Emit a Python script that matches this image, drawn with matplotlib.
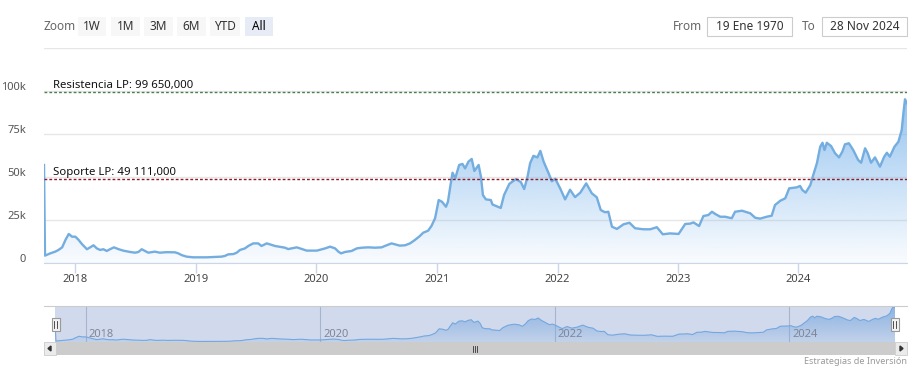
import numpy as np
import pandas as pd
import matplotlib
matplotlib.use('Agg')
import matplotlib.pyplot as plt
import matplotlib.dates as mdates
from matplotlib.patches import Rectangle, Polygon
from matplotlib.transforms import ScaledTranslation, blended_transform_factory

plt.rcParams['font.family'] = ['Noto Sans', 'DejaVu Sans']

# Price series (USD)
dates = [
    "2017-09-28", "2017-10-01", "2017-10-17", "2017-11-01", "2017-11-11", "2017-11-22",
    "2017-12-02", "2017-12-12", "2017-12-22", "2018-01-01", "2018-01-11", "2018-01-21",
    "2018-02-05", "2018-02-15", "2018-02-25", "2018-03-07", "2018-03-17", "2018-03-27",
    "2018-04-06", "2018-04-16", "2018-04-28", "2018-05-11", "2018-05-26", "2018-06-16",
    "2018-07-01", "2018-07-11", "2018-07-21", "2018-07-31", "2018-08-10", "2018-08-30",
    "2018-09-14", "2018-10-05", "2018-10-30", "2018-11-09", "2018-11-19", "2018-12-04",
    "2018-12-24", "2019-01-14", "2019-02-03", "2019-02-23", "2019-03-20", "2019-03-30",
    "2019-04-09", "2019-04-25", "2019-05-05", "2019-05-15", "2019-05-30", "2019-06-09",
    "2019-06-24", "2019-07-09", "2019-07-19", "2019-08-04", "2019-08-29", "2019-09-28",
    "2019-10-08", "2019-11-03", "2019-12-03", "2020-01-03", "2020-01-28", "2020-02-12",
    "2020-02-27", "2020-03-08", "2020-03-16", "2020-03-28", "2020-04-17", "2020-05-03",
    "2020-05-18", "2020-06-07", "2020-06-27", "2020-07-17", "2020-07-27", "2020-08-16",
    "2020-09-10", "2020-09-26", "2020-10-11", "2020-10-26", "2020-11-10", "2020-11-20",
    "2020-12-05", "2020-12-15", "2020-12-26", "2021-01-06", "2021-01-16", "2021-01-28",
    "2021-02-03", "2021-02-10", "2021-02-17", "2021-02-25", "2021-03-09", "2021-03-19",
    "2021-03-27", "2021-04-06", "2021-04-16", "2021-04-24", "2021-05-07", "2021-05-14",
    "2021-05-20", "2021-05-29", "2021-06-13", "2021-06-18", "2021-07-13", "2021-07-23",
    "2021-08-08", "2021-08-28", "2021-09-12", "2021-09-22", "2021-10-02", "2021-10-10",
    "2021-10-20", "2021-11-01", "2021-11-10", "2021-11-20", "2021-12-05", "2021-12-15",
    "2021-12-25", "2022-01-09", "2022-01-24", "2022-02-08", "2022-02-23", "2022-03-11",
    "2022-03-29", "2022-04-15", "2022-04-30", "2022-05-12", "2022-05-25", "2022-06-04",
    "2022-06-15", "2022-06-30", "2022-07-20", "2022-08-07", "2022-08-24", "2022-09-18",
    "2022-10-09", "2022-10-29", "2022-11-16", "2022-12-08", "2023-01-03", "2023-01-23",
    "2023-02-07", "2023-02-17", "2023-03-06", "2023-03-19", "2023-04-03", "2023-04-14",
    "2023-04-24", "2023-05-09", "2023-05-24", "2023-06-13", "2023-06-23", "2023-07-14",
    "2023-08-08", "2023-08-23", "2023-09-07", "2023-09-27", "2023-10-12", "2023-10-22",
    "2023-11-07", "2023-11-22", "2023-12-04", "2023-12-27", "2024-01-06", "2024-01-13",
    "2024-01-23", "2024-02-06", "2024-02-15", "2024-02-26", "2024-03-07", "2024-03-14",
    "2024-03-20", "2024-03-27", "2024-04-09", "2024-04-21", "2024-05-03", "2024-05-13",
    "2024-05-21", "2024-06-02", "2024-06-15", "2024-06-30", "2024-07-09", "2024-07-21",
    "2024-07-29", "2024-08-08", "2024-08-20", "2024-09-04", "2024-09-17", "2024-09-25",
    "2024-10-04", "2024-10-18", "2024-10-30", "2024-11-09", "2024-11-14", "2024-11-19",
    "2024-11-25",
]
prices = [
    57000, 4300, 5600, 6600, 7600, 9100,
    13400, 16900, 15300, 15300, 13400, 11000,
    8000, 9100, 10300, 8500, 7600, 8000,
    7000, 8000, 9100, 8100, 7200, 6400,
    6000, 6400, 8000, 7000, 6000, 6600,
    6000, 6300, 6200, 5600, 4600, 3700,
    3300, 3300, 3300, 3500, 3700, 4100,
    5000, 5200, 6000, 7600, 8500, 9900,
    11400, 11400, 9900, 11400, 9900, 8900,
    8100, 9100, 7200, 7200, 8500, 9500,
    8500, 6600, 5600, 6400, 7000, 8500,
    8900, 9100, 8900, 9100, 9900, 11400,
    10100, 10300, 11400, 13400, 15700, 17600,
    18800, 21500, 26000, 36600, 35600, 32700,
    35600, 44400, 52500, 49200, 57000, 57600,
    55000, 58900, 60500, 53500, 57000, 50200,
    39500, 37000, 36600, 34000, 32000, 39500,
    46000, 48800, 47000, 43000, 50000, 58000,
    62300, 61400, 65200, 58900, 52200, 47500,
    49000, 43400, 37000, 42600, 38300, 40900,
    46300, 40500, 38200, 30800, 29500, 29800,
    21100, 19800, 22500, 23400, 20200, 19600,
    19600, 20800, 16700, 17200, 16900, 22700,
    22900, 23600, 21500, 27300, 27900, 29800,
    28500, 26900, 26900, 26000, 29800, 30400,
    28900, 26300, 25800, 26900, 27500, 33700,
    36200, 37600, 43400, 44000, 44800, 42400,
    40900, 45300, 51200, 58000, 67600, 69900,
    65700, 69900, 68000, 63800, 61400, 64700,
    69000, 69600, 65700, 59900, 58300, 66700,
    63800, 58300, 61400, 56000, 61800, 64100,
    61800, 67600, 70500, 77300, 87000, 95200,
    92800,
]

resistance = 99650
support = 49111
resistance_label = "Resistencia LP: 99 650,000"
support_label = "Soporte LP: 49 111,000"

y_ticks = [0, 25000, 50000, 75000, 100000, 125000]
y_labels = ["0", "25k", "50k", "75k", "100k", ""]
year_ticks = ["2018-01-01", "2019-01-01", "2020-01-01", "2021-01-01",
              "2022-01-01", "2023-01-01", "2024-01-01"]
year_labels = ["2018", "2019", "2020", "2021", "2022", "2023", "2024"]
nav_ticks = ["2018-01-01", "2020-01-01", "2022-01-01", "2024-01-01"]
nav_labels = ["2018", "2020", "2022", "2024"]
zoom_buttons = ["1W", "1M", "3M", "6M", "YTD", "All"]
date_from = "19 Ene 1970"
date_to = "28 Nov 2024"

d = pd.to_datetime(dates)
p = np.array(prices, dtype=float)
blue = (124 / 255, 181 / 255, 236 / 255)

W, H = 920, 374
fig = plt.figure(figsize=(W / 100, H / 100), dpi=100)


def fx(x):
    return x / W


def fy(y):
    return 1 - y / H


def gradient_fill(ax, x, y, top_alpha, bottom_alpha, ytop):
    poly = ax.fill_between(x, y, 0, color='none', lw=0)
    grad = np.zeros((256, 1, 4))
    grad[:, 0, :3] = blue
    grad[:, 0, 3] = np.linspace(top_alpha, bottom_alpha, 256)
    x0, x1 = mdates.date2num(x[0]), mdates.date2num(x[-1])
    im = ax.imshow(grad, extent=[x0, x1, 0, ytop], aspect='auto',
                   origin='upper', zorder=1, interpolation='bilinear')
    im.set_clip_path(poly.get_paths()[0], transform=ax.transData)


# ---- main chart ----
ax = fig.add_axes([fx(44), fy(263), (907 - 44) / W, 215 / H])
gradient_fill(ax, d, p, 0.8, 0.04, p.max())
ax.plot(d, p, color='#74addf', lw=1.7, zorder=3, solid_joinstyle='round')
ax.set_xlim(d[0], d[-1])
ax.set_ylim(0, 125000)

ax.set_yticks(y_ticks)
ax.set_yticklabels(y_labels)
ax.grid(axis='y', color='#e6e6e6', lw=1)
ax.set_axisbelow(True)
ax.tick_params(axis='y', length=0, pad=13, labelsize=8, labelcolor='#555555')
for lab in ax.get_yticklabels():
    lab.set_transform(lab.get_transform() + ScaledTranslation(0, 5 / 100, fig.dpi_scale_trans))

ax.set_xticks(pd.to_datetime(year_ticks))
ax.set_xticklabels(year_labels)
ax.tick_params(axis='x', length=7, width=1, color='#ccd6eb', pad=1,
               labelsize=8, labelcolor='#444444')
for s in ['top', 'right', 'left']:
    ax.spines[s].set_visible(False)
ax.spines['bottom'].set_color('#ccd6eb')

ax.axhline(resistance, color='#4e7d4e', lw=1, ls=(0, (2, 1.5)), zorder=4)
ax.axhline(support, color='#8b1a2a', lw=1, ls=(0, (2, 1.5)), zorder=4)
tr = blended_transform_factory(ax.transAxes, ax.transData)
ax.text(9 / 863, resistance + 300, resistance_label, transform=tr,
        fontsize=8.2, color='#111111', va='bottom', zorder=5)
ax.text(9 / 863, support + 300, support_label, transform=tr,
        fontsize=8.2, color='#111111', va='bottom', zorder=5)

# ---- navigator ----
nav = fig.add_axes([fx(55), fy(342), (895 - 55) / W, 36 / H])
nav.set_xlim(d[0], d[-1])
nav.set_ylim(p.min() - 1500, p.max() + 1500)
for t in pd.to_datetime(nav_ticks):
    nav.axvline(t, color='#c4c9d6', lw=0.8, zorder=0)
gradient_fill(nav, d, p, 0.75, 0.15, p.max())
nav.plot(d, p, color='#7cb5ec', lw=0.8, zorder=3)
nav.add_patch(Rectangle((0, 0), 1, 1, transform=nav.transAxes,
                        facecolor=(102 / 255, 133 / 255, 194 / 255, 0.3),
                        edgecolor='none', zorder=4))
ntr = blended_transform_factory(nav.transData, nav.transAxes)
for t, lab in zip(pd.to_datetime(nav_ticks), nav_labels):
    nav.text(t, 0.22, lab, transform=ntr + ScaledTranslation(3 / 100, 0, fig.dpi_scale_trans),
             fontsize=8, color='#7f8697', va='center', ha='left', zorder=5)
nav.set_xticks([])
nav.set_yticks([])
for s in nav.spines.values():
    s.set_visible(False)

# navigator outline and handles
fig.add_artist(plt.Line2D([fx(44), fx(907)], [fy(306), fy(306)], color='#cccccc', lw=0.8))
for hx in (56, 895):
    fig.add_artist(Rectangle((fx(hx - 4), fy(331)), 8 / W, 13 / H,
                             facecolor='#f2f2f2', edgecolor='#999999', lw=0.8))
    for off in (-1.5, 1.5):
        fig.add_artist(plt.Line2D([fx(hx + off), fx(hx + off)], [fy(321), fy(328)],
                                  color='#333333', lw=0.6))

# ---- scrollbar ----
fig.add_artist(Rectangle((fx(44), fy(355)), 863 / W, 13 / H,
                         facecolor='#f2f2f2', edgecolor='none'))
fig.add_artist(Rectangle((fx(55), fy(355)), 840 / W, 13 / H,
                         facecolor='#cccccc', edgecolor='none'))
for bx in (44, 895):
    fig.add_artist(Rectangle((fx(bx), fy(355)), 12 / W, 13 / H,
                             facecolor='#ebebeb', edgecolor='#cccccc', lw=0.6))
fig.add_artist(Polygon([[fx(48), fy(348.5)], [fx(51), fy(346)], [fx(51), fy(351)]],
                       closed=True, color='#333333'))
fig.add_artist(Polygon([[fx(903), fy(348.5)], [fx(900), fy(346)], [fx(900), fy(351)]],
                       closed=True, color='#333333'))
for gx in (473, 475, 477):
    fig.add_artist(plt.Line2D([fx(gx), fx(gx)], [fy(345.5), fy(351.5)],
                              color='#333333', lw=0.6))

fig.text(fx(907), fy(362), "Estrategias de Inversión", ha='right', va='center',
         fontsize=6.5, color='#999999')

# ---- range selector ----
fig.text(fx(44), fy(27), "Zoom", ha='left', va='center', fontsize=8.5, color='#666666')
btn_x = [(78, 106), (111, 140), (144, 173), (177, 206), (210, 240), (245, 273)]
for (bx0, bx1), lab in zip(btn_x, zoom_buttons):
    sel = lab == "All"
    fig.add_artist(Rectangle((fx(bx0), fy(36)), (bx1 - bx0) / W, 19 / H,
                             facecolor='#e6ebf5' if sel else '#f7f7f7', edgecolor='none'))
    fig.text(fx((bx0 + bx1) / 2), fy(26.5), lab, ha='center', va='center', fontsize=8.5,
             color='#000000' if sel else '#333333', fontweight='bold' if sel else 'normal')

fig.text(fx(673), fy(27), "From", ha='left', va='center', fontsize=8.5, color='#666666')
fig.text(fx(802), fy(27), "To", ha='left', va='center', fontsize=8.5, color='#666666')
for (bx0, bx1), lab in zip([(707, 792), (822, 907)], [date_from, date_to]):
    fig.add_artist(Rectangle((fx(bx0), fy(36)), (bx1 - bx0) / W, 19 / H,
                             facecolor='white', edgecolor='#cccccc', lw=0.8))
    fig.text(fx((bx0 + bx1) / 2), fy(26.5), lab, ha='center', va='center',
             fontsize=8.5, color='#333333')

fig.savefig('out.png', dpi=100)
